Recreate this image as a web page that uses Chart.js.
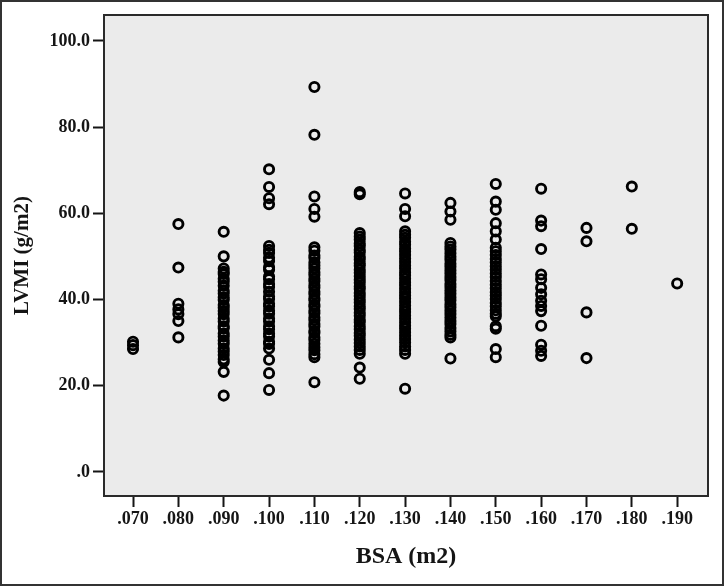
<!DOCTYPE html>
<html>
<head>
<meta charset="utf-8">
<script src="https://cdn.jsdelivr.net/npm/chart.js@4"></script>
<style>
    html, body { margin: 0; padding: 0; background: #fff; }
    #wrap { width: 724px; height: 586px; }
</style>
</head>
<body>
<div id="wrap"><canvas id="scatter" width="724" height="586"></canvas></div>
<script>
// BSA levels (x) and LVMI readings (y) per level
const bsaLevels = [0.07, 0.08, 0.09, 0.10, 0.11, 0.12, 0.13, 0.14, 0.15, 0.16, 0.17, 0.18, 0.19];

const lvmi070 = [30.2, 29.4, 28.5];
const lvmi080 = [57.5, 47.4, 39.0, 37.7, 36.6, 35.0, 31.2];
const lvmi090 = [55.7, 50.0, 47.2, 46.4, 45.9, 44.8, 44.1, 43.2, 42.0, 41.4, 40.5, 39.9, 38.7, 38.1,
    37.3, 36.6, 35.6, 34.9, 33.8, 33.3, 32.1, 31.4, 30.5, 29.7, 28.6, 27.9, 27.1, 26.1, 25.5, 23.2, 17.7];
const lvmi100 = [70.2, 66.1, 63.5, 62.1, 52.4, 51.5, 50.8, 49.7, 48.9, 47.5, 46.9, 45.3, 44.7, 43.6,
    42.9, 41.8, 40.7, 40.1, 39.0, 38.4, 37.4, 36.7, 35.6, 34.9, 33.8, 33.1, 32.1, 31.4, 30.2, 29.7,
    28.6, 26.0, 22.9, 19.0];
const lvmi110 = [89.3, 78.2, 63.9, 61.0, 59.2, 52.1, 51.3, 50.2, 49.6, 48.6, 47.9, 47.2, 46.3, 45.7,
    44.8, 44.2, 43.3, 42.7, 41.8, 41.2, 40.3, 39.8, 38.8, 38.3, 37.4, 36.8, 35.8, 35.2, 34.3, 33.7,
    32.7, 32.2, 31.2, 30.6, 29.7, 28.9, 28.2, 27.3, 26.6, 20.8];
const lvmi120 = [64.9, 64.4, 55.4, 54.6, 53.9, 53.0, 52.4, 51.5, 50.9, 49.9, 49.3, 48.4, 47.8, 46.9,
    46.2, 45.4, 44.6, 43.9, 43.0, 42.4, 41.5, 40.8, 40.0, 39.3, 38.4, 37.8, 36.9, 36.2, 35.3, 34.7,
    33.8, 33.1, 32.2, 31.6, 30.7, 29.9, 29.1, 28.3, 27.4, 24.2, 21.6];
const lvmi130 = [64.6, 61.0, 59.3, 55.8, 55.0, 54.3, 53.4, 52.7, 51.8, 51.1, 50.3, 49.5, 48.7, 47.9,
    47.2, 46.3, 45.6, 44.8, 44.0, 43.3, 42.5, 41.7, 40.9, 40.2, 39.4, 38.6, 37.8, 37.1, 36.3, 35.5,
    34.7, 33.9, 33.2, 32.4, 31.6, 30.8, 30.0, 29.1, 28.3, 27.4, 19.3];
const lvmi140 = [62.4, 60.4, 58.5, 53.1, 52.3, 51.6, 50.7, 49.9, 49.2, 48.3, 47.6, 46.8, 46.0, 45.2,
    44.5, 43.6, 42.9, 42.1, 41.3, 40.5, 39.8, 38.9, 38.2, 37.4, 36.6, 35.8, 35.0, 34.3, 33.4, 32.6,
    31.8, 31.2, 26.3];
const lvmi150 = [66.8, 62.7, 60.8, 57.7, 55.8, 53.9, 52.0, 51.2, 50.3, 49.4, 48.6, 47.7, 46.9, 46.0,
    45.2, 44.3, 43.4, 42.6, 41.7, 40.9, 40.1, 39.2, 38.4, 37.5, 36.7, 36.1, 33.8, 33.2, 28.5, 26.6];
const lvmi160 = [65.7, 58.3, 57.0, 51.7, 45.8, 44.7, 42.7, 41.2, 39.7, 38.5, 37.3, 33.9, 29.5, 28.1, 26.9];
const lvmi170 = [56.6, 53.5, 37.0, 26.4];
const lvmi180 = [66.2, 56.4];
const lvmi190 = [43.7];

const lvmiByLevel = [lvmi070, lvmi080, lvmi090, lvmi100, lvmi110, lvmi120, lvmi130,
    lvmi140, lvmi150, lvmi160, lvmi170, lvmi180, lvmi190];

const xTicks = bsaLevels;
const yTicks = [0, 20, 40, 60, 80, 100];

const points = [];
bsaLevels.forEach((bsa, i) => {
    lvmiByLevel[i].forEach(v => points.push({ x: bsa, y: v }));
});

const serif = '"Liberation Serif", "Times New Roman", serif';
const ink = '#151515';

// grey plot panel, frame around it and a frame around the whole figure
const panelPlugin = {
    id: 'panel',
    beforeDatasetsDraw(chart) {
        const { ctx, chartArea: a } = chart;
        ctx.save();
        ctx.fillStyle = '#ebebeb';
        ctx.fillRect(a.left, a.top, a.right - a.left, a.bottom - a.top);
        ctx.restore();
    },
    afterDraw(chart) {
        const { ctx, chartArea: a } = chart;
        ctx.save();
        ctx.strokeStyle = '#2a2a2a';
        ctx.lineWidth = 2;
        ctx.strokeRect(a.left, a.top, a.right - a.left, a.bottom - a.top);
        ctx.strokeStyle = '#333';
        ctx.lineWidth = 2;
        ctx.strokeRect(1, 1, chart.width - 2, chart.height - 2);
        ctx.restore();
    }
};

const ctx = document.getElementById('scatter').getContext('2d');
new Chart(ctx, {
    type: 'scatter',
    data: {
        datasets: [{
            data: points,
            pointStyle: 'circle',
            pointRadius: 4.6,
            pointHoverRadius: 4.6,
            pointBorderWidth: 2.9,
            borderColor: '#000',
            backgroundColor: 'rgba(0,0,0,0)'
        }]
    },
    options: {
        responsive: false,
        animation: false,
        events: [],
        layout: { padding: { top: 15, right: 16, left: 0, bottom: 0 } },
        plugins: {
            legend: { display: false },
            tooltip: { enabled: false }
        },
        scales: {
            x: {
                type: 'linear',
                min: 0.0636,
                max: 0.1968,
                afterFit(scale) { scale.height = 90; },
                afterBuildTicks(scale) { scale.ticks = xTicks.map(v => ({ value: v })); },
                grid: {
                    drawOnChartArea: false,
                    drawTicks: true,
                    tickLength: 11,
                    tickWidth: 2,
                    tickColor: ink
                },
                border: { display: true, width: 2, color: '#2a2a2a' },
                ticks: {
                    padding: 2,
                    maxRotation: 0,
                    autoSkip: false,
                    color: ink,
                    font: { family: serif, size: 18, weight: 'bold', lineHeight: 1.2 },
                    callback: v => v.toFixed(3).replace(/^0/, '')
                },
                title: {
                    display: true,
                    text: 'BSA (m2)',
                    color: ink,
                    padding: { top: 0, bottom: 14.6 },
                    font: { family: serif, size: 24, weight: 'bold', lineHeight: 1.2 }
                }
            },
            y: {
                type: 'linear',
                min: -5.6,
                max: 106,
                afterFit(scale) { scale.width = 104; },
                afterBuildTicks(scale) { scale.ticks = yTicks.map(v => ({ value: v })); },
                grid: {
                    drawOnChartArea: false,
                    drawTicks: true,
                    tickLength: 11,
                    tickWidth: 2,
                    tickColor: ink
                },
                border: { display: true, width: 2, color: '#2a2a2a' },
                ticks: {
                    padding: 3,
                    autoSkip: false,
                    color: ink,
                    font: { family: serif, size: 18, weight: 'bold', lineHeight: 1.2 },
                    callback: v => v.toFixed(1).replace(/^0\./, '.')
                },
                title: {
                    display: true,
                    text: 'LVMI (g/m2)',
                    color: ink,
                    padding: { top: 10.4, bottom: 0 },
                    font: { family: serif, size: 21, weight: 'bold', lineHeight: 1.2 }
                }
            }
        }
    },
    plugins: [panelPlugin]
});
</script>
</body>
</html>
